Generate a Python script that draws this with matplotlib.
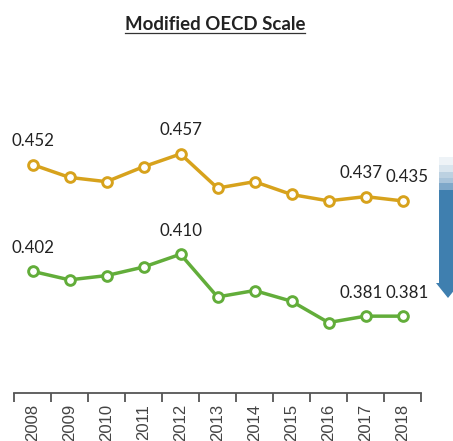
import numpy as np
import matplotlib.pyplot as plt
from matplotlib.patches import Rectangle, Polygon
from matplotlib.lines import Line2D

years = ['2008', '2009', '2010', '2011', '2012', '2013',
         '2014', '2015', '2016', '2017', '2018']
upper = [0.452, 0.446, 0.444, 0.451, 0.457, 0.441,
         0.444, 0.438, 0.435, 0.437, 0.435]
lower = [0.402, 0.398, 0.400, 0.404, 0.410, 0.390,
         0.393, 0.388, 0.378, 0.381, 0.381]
labelled = [0, 4, 9, 10]

gold = '#D7A21C'
green = '#62AD3A'

fig = plt.figure(figsize=(4.53, 4.41), dpi=100)
ax = fig.add_axes([14 / 453, 48 / 441, 407 / 453, 333 / 441])

x = np.arange(len(years))
for vals, col in [(upper, gold), (lower, green)]:
    ax.plot(x, vals, color=col, lw=2.5, marker='o', ms=7,
            mfc='white', mec=col, mew=2.1, zorder=3)
    for i in labelled:
        dx = {9: -3, 10: 3.5}.get(i, 0)
        ax.annotate(f'{vals[i]:.3f}', (x[i], vals[i]), xytext=(dx, 17),
                    textcoords='offset points', ha='center', va='center',
                    fontsize=12.2, family='Lato', color='#222222')

ax.set_xlim(-0.5, len(years) - 0.5)
ax.set_ylim(0.345, 0.501)
ax.set_yticks([])
ax.set_xticks(x)
ax.set_xticklabels(years, rotation=90, fontsize=12,
                   family='Liberation Sans', color='#444444')
ax.tick_params(axis='x', which='major', length=0, pad=8)
ax.set_xticks(np.arange(-0.5, len(years)), minor=True)
ax.tick_params(axis='x', which='minor', length=6.5, width=1.3, color='#555555')
for s in ['top', 'right', 'left']:
    ax.spines[s].set_visible(False)
ax.spines['bottom'].set_color('#555555')
ax.spines['bottom'].set_linewidth(1.3)

# title with underline
title = fig.text(215 / 453, 1 - 24 / 441, 'Modified OECD Scale', ha='center',
                 va='center', fontsize=13.4, family='Lato',
                 fontweight='bold', color='#222222')
fig.canvas.draw()
bb = title.get_window_extent().transformed(fig.transFigure.inverted())
fig.add_artist(Line2D([bb.x0, bb.x1], [1 - 33 / 441] * 2, color='#333333',
                      lw=0.9, transform=fig.transFigure))

# cropped piece of the neighbouring chart on the right edge
W, H = 453, 441
bands = [(157, 165, '#EEF3F7'), (165, 172, '#D9E5EE'), (172, 178, '#BCD1E1'),
         (178, 183, '#A9C4DA'), (183, 190, '#7FA8C9'), (190, 284, '#3F7FAF')]
for y0, y1, c in bands:
    fig.add_artist(Rectangle((439 / W, 1 - y1 / H), 20 / W, (y1 - y0) / H,
                             color=c, transform=fig.transFigure, lw=0))
fig.add_artist(Polygon([(436 / W, 1 - 283 / H), (460 / W, 1 - 283 / H),
                        (448 / W, 1 - 298 / H)], closed=True, color='#3F7FAF',
                       transform=fig.transFigure, lw=0))

fig.savefig('out.png', dpi=100)
